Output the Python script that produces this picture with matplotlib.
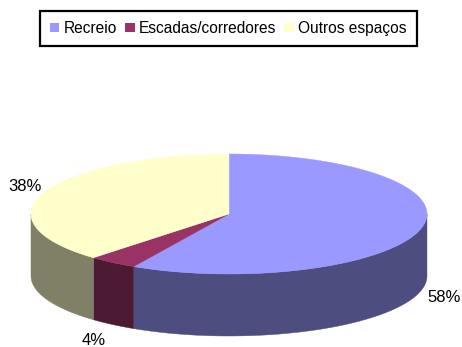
import numpy as np
import matplotlib
matplotlib.use("Agg")
import matplotlib.pyplot as plt
from matplotlib.patches import Patch

plt.rcParams['font.family'] = ['Liberation Sans', 'DejaVu Sans']

categories = ["Recreio", "Escadas/corredores", "Outros espaços"]
shares = [58, 4, 38]
top_colors = ["#9999FF", "#993366", "#FFFFCC"]
wall_colors = ["#4D4D80", "#4D1A33", "#808066"]

# Pie geometry in pixel-sized data units
CX, CY, RX, RY, DEPTH = 229, 214, 198, 60, 62
LABEL_POS = [(444, 298), (94, 340.5), (25, 186)]

W, H = 462, 347
fig = plt.figure(figsize=(W / 100, H / 100), dpi=100)
ax = fig.add_axes([0, 0, 1, 1])
ax.set_xlim(0, W)
ax.set_ylim(H, 0)
ax.axis("off")


def rim(a0, a1):
    # Ellipse points, angles measured clockwise from twelve o'clock
    t = np.radians(np.linspace(a0, a1, max(2, int(abs(a1 - a0) * 2))))
    return CX + RX * np.sin(t), CY - RY * np.cos(t)


edges = np.concatenate([[0], np.cumsum(shares)]) * 3.6

# Side walls: only the part of each slice on the front half of the rim
for start, end, wall in zip(edges[:-1], edges[1:], wall_colors):
    a0, a1 = max(start, 90), min(end, 270)
    if a1 > a0:
        x, y = rim(a0, a1)
        ax.fill(np.r_[x, x[::-1]], np.r_[y, y[::-1] + DEPTH],
                color=wall, lw=0.3, zorder=2)

# Top faces
for start, end, top in zip(edges[:-1], edges[1:], top_colors):
    x, y = rim(start, end)
    ax.fill(np.r_[CX, x], np.r_[CY, y], color=top, lw=0.3, zorder=3)

for share, (lx, ly) in zip(shares, LABEL_POS):
    ax.text(lx, ly, f"{share}%", ha="center", va="center",
            fontsize=12, color="black", zorder=5)

handles = [Patch(facecolor=c, edgecolor="none") for c in top_colors]
leg = fig.legend(handles, categories, loc="center",
                 bbox_to_anchor=(228.5 / W, 1 - 28.5 / H), ncol=3,
                 fontsize=11.2, frameon=True, fancybox=False, framealpha=1,
                 edgecolor="black", handlelength=0.6, handleheight=0.6,
                 handletextpad=0.3, columnspacing=0.5, borderpad=0.62,
                 borderaxespad=0)
leg.get_frame().set_linewidth(1.6)

fig.savefig("out.png", dpi=100)
